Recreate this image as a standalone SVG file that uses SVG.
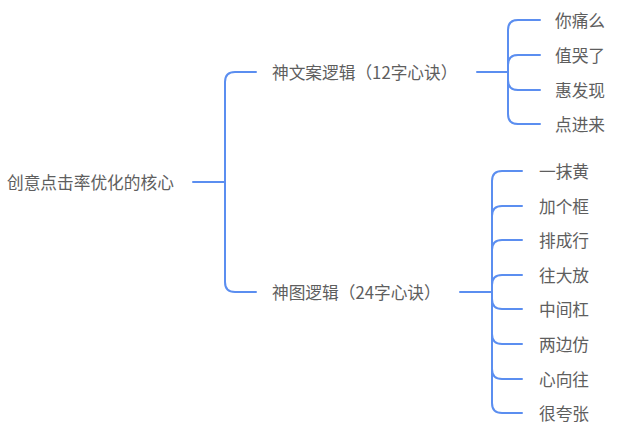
<svg xmlns="http://www.w3.org/2000/svg" width="640" height="437" viewBox="0 0 640 437">
<style>
text{font-family:"Noto Sans CJK SC","Noto Sans",sans-serif;font-size:16.7px;fill:#5e5e5e;dominant-baseline:central}
.c{fill:none;stroke:#5b8ef0;stroke-width:2;stroke-linecap:round}
</style>
<rect width="640" height="437" fill="#fff"/>
<g id="connectors">
<path class="c" d="M193,182 H225"/>
<path class="c" d="M256,72 H235 Q225,72 225,82 V282 Q225,292 235,292 H256"/>
<path class="c" d="M477,72 H508"/>
<path class="c" d="M540,20 H518 Q508,20 508,30 V114 Q508,124 518,124 H540"/>
<path class="c" d="M508,65 Q508,55 518,55 H540"/>
<path class="c" d="M508,80 Q508,90 518,90 H540"/>
<path class="c" d="M460,292 H492"/>
<path class="c" d="M522,171 H502 Q492,171 492,181 V403 Q492,413 502,413 H522"/>
<path class="c" d="M492,216 Q492,206 502,206 H522"/>
<path class="c" d="M492,250 Q492,240 502,240 H522"/>
<path class="c" d="M492,285 Q492,275 502,275 H522"/>
<path class="c" d="M492,299 Q492,309 502,309 H522"/>
<path class="c" d="M492,334 Q492,344 502,344 H522"/>
<path class="c" d="M492,369 Q492,379 502,379 H522"/>
</g>
<g id="root"><text x="7" y="182">创意点击率优化的核心</text></g>
<g id="n1"><text x="272" y="72">神文案逻辑（12字心诀）</text></g>
<g id="n2"><text x="272" y="292">神图逻辑（24字心诀）</text></g>
<g id="a1"><text x="555" y="20">你痛么</text></g>
<g id="a2"><text x="555" y="55">值哭了</text></g>
<g id="a3"><text x="555" y="90">惠发现</text></g>
<g id="a4"><text x="555" y="124">点进来</text></g>
<g id="b1"><text x="539" y="171">一抹黄</text></g>
<g id="b2"><text x="539" y="206">加个框</text></g>
<g id="b3"><text x="539" y="240">排成行</text></g>
<g id="b4"><text x="539" y="275">往大放</text></g>
<g id="b5"><text x="539" y="309">中间杠</text></g>
<g id="b6"><text x="539" y="344">两边仿</text></g>
<g id="b7"><text x="539" y="379">心向往</text></g>
<g id="b8"><text x="539" y="413">很夸张</text></g>
</svg>
